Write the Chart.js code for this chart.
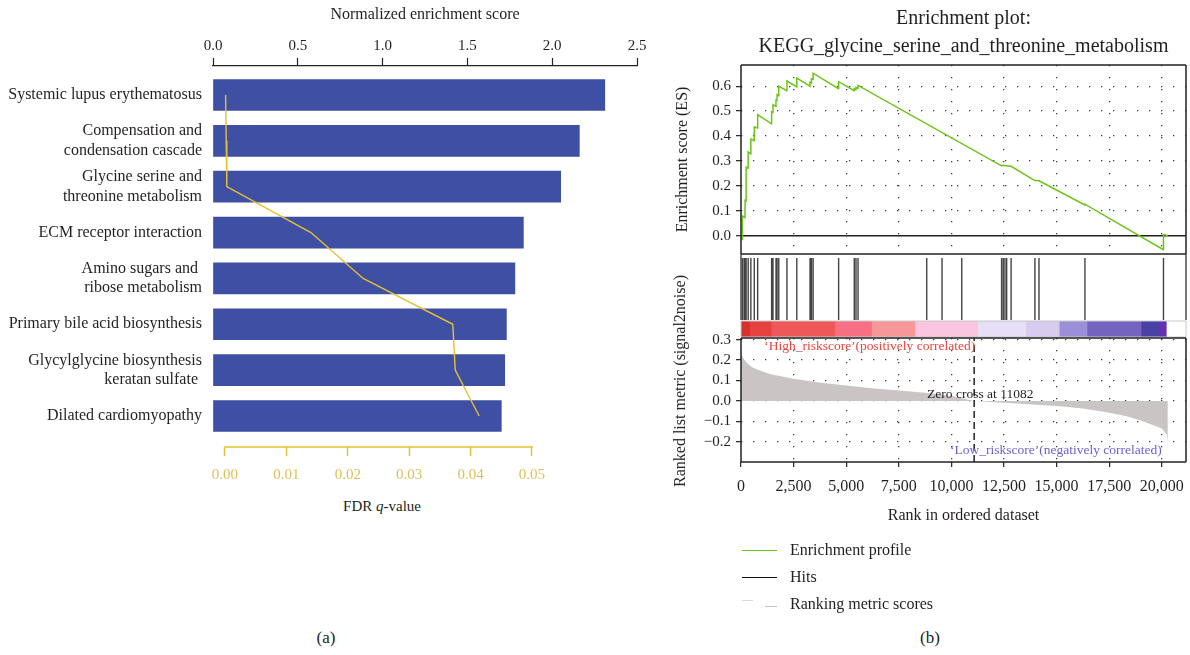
<!DOCTYPE html>
<html><head><meta charset="utf-8">
<script src="https://cdn.jsdelivr.net/npm/chart.js@4.4.1/dist/chart.umd.min.js"></script>
<style>
body{margin:0;background:#fff;}
#wrap{position:relative;width:1190px;height:655px;overflow:hidden;font-family:'Liberation Serif','DejaVu Serif',serif;color:#231f20;background:#fff;}
canvas{position:absolute;}
.t{position:absolute;white-space:nowrap;}
.ln{position:absolute;height:0;}
</style></head><body><div id="wrap">
<canvas id="cA" width="660" height="490" style="left:0;top:0"></canvas>
<canvas id="cES" width="530" height="268" style="left:660px;top:0"></canvas>
<canvas id="cHits" width="530" height="66" style="left:660px;top:254px"></canvas>
<canvas id="cBar" width="530" height="18" style="left:660px;top:320px"></canvas>
<canvas id="cRank" width="540" height="290" style="left:660px;top:250px"></canvas>

<div class="t" style="left:741px;top:3px;width:445px;text-align:center;font-size:20px;line-height:28px">Enrichment plot:<br>KEGG_glycine_serine_and_threonine_metabolism</div>
<div class="t" style="left:680px;top:381px;font-size:16px;transform:translate(-50%,-50%) rotate(-90deg)">Ranked list metric (signal2noise)</div>
<div class="t" style="left:382px;top:506px;font-size:15px;transform:translate(-50%,-50%)">FDR <i>q</i>-value</div>
<div class="t" style="left:326px;top:638px;font-size:17px;transform:translate(-50%,-50%)">(a)</div>
<div class="t" style="left:930px;top:638px;font-size:17px;transform:translate(-50%,-50%)">(b)</div>

<div class="ln" style="left:742px;top:550px;width:35px;border-top:1.5px solid #6cc417"></div>
<div class="t" style="left:790px;top:540px;font-size:16px;line-height:20px">Enrichment profile</div>
<div class="ln" style="left:742px;top:577px;width:35px;border-top:1.5px solid #111"></div>
<div class="t" style="left:790px;top:567px;font-size:16px;line-height:20px">Hits</div>
<div class="ln" style="left:742px;top:600px;width:11px;border-top:1.5px solid #d8d8d8"></div>
<div class="ln" style="left:765px;top:606px;width:12px;border-top:1.5px solid #c4c4c4"></div>
<div class="t" style="left:790px;top:594px;font-size:16px;line-height:20px">Ranking metric scores</div>
</div>
<script>
// ---------- data: panel (a) ----------
const pathways = [
  ['Systemic lupus erythematosus'],
  ['Compensation and', 'condensation cascade'],
  ['Glycine serine and', 'threonine metabolism'],
  ['ECM receptor interaction'],
  ['Amino sugars and ', 'ribose metabolism'],
  ['Primary bile acid biosynthesis'],
  ['Glycylglycine biosynthesis', 'keratan sulfate '],
  ['Dilated cardiomyopathy']
];
const nesValues = [2.31, 2.16, 2.05, 1.83, 1.78, 1.73, 1.72, 1.70];
const fdrValues = [0.0001, 0.0002, 0.0003, 0.0140, 0.0225, 0.0371, 0.0375, 0.0414];
const nesTicks = [0, 0.5, 1.0, 1.5, 2.0, 2.5];
const fdrTicks = [0, 0.01, 0.02, 0.03, 0.04, 0.05];

// ---------- data: panel (b) ----------
const rankTicks = [0, 2500, 5000, 7500, 10000, 12500, 15000, 17500, 20000];
const esTicks = [0, 0.1, 0.2, 0.3, 0.4, 0.5, 0.6];
const metricTicks = [-0.2, -0.1, 0, 0.1, 0.2, 0.3];
const esRanks = [0, 60, 65, 190, 194, 240, 243, 336, 340, 465, 469, 627, 631, 788, 792,
  1451, 1455, 1516, 1520, 1661, 1665, 1710, 1714, 1791, 1795, 2179, 2183, 2648, 2652,
  3278, 3282, 3343, 3347, 3424, 3428, 4636, 4640, 5380, 5384, 5461, 5465, 5558, 5562,
  12381, 12385, 12837, 13965, 13969, 14163, 16342, 16346, 20076, 20080, 20290];
const esScores = [0, -0.016, 0.079, 0.072, 0.141, 0.138, 0.275, 0.270, 0.336, 0.328, 0.388, 0.381, 0.436, 0.432, 0.486,
  0.449, 0.497, 0.494, 0.525, 0.519, 0.545, 0.543, 0.566, 0.562, 0.600, 0.582, 0.621, 0.597, 0.632,
  0.600, 0.616, 0.613, 0.630, 0.627, 0.652, 0.590, 0.618, 0.582, 0.590, 0.586, 0.595, 0.591, 0.603,
  0.280, 0.282, 0.278, 0.221, 0.222, 0.220, 0.123, 0.126, -0.057, 0.004, 0.0];
const hitRanks = [65, 146, 194, 243, 340, 469, 631, 792, 1455, 1520, 1665, 1714, 1795, 2183, 2652,
  3282, 3347, 3428, 4640, 5384, 5465, 5562, 8828, 9555, 10493, 12385, 12465, 12546, 12627, 12837,
  13969, 14163, 16346, 20080];
const metricRanks = [0, 40, 128, 287, 527, 766, 1405, 2490, 3799, 4996, 6193, 7518, 8747, 10024, 11082,
  12528, 15018, 16247, 17524, 18322, 18962, 19600, 20000, 20239, 20280, 20287];
const metricScores = [0.245, 0.225, 0.206, 0.186, 0.165, 0.154, 0.131, 0.109, 0.089, 0.076, 0.063, 0.052, 0.040, 0.024, 0.0,
  -0.008, -0.024, -0.037, -0.057, -0.075, -0.094, -0.118, -0.134, -0.164, -0.200, -0.264];
const zeroCross = 11082;
const bandStarts = [0, 400, 1420, 4442, 6190, 8257, 11230, 13520, 15110, 16430, 19000, 19880];
const bandEnds   = [400, 1420, 4442, 6190, 8257, 11230, 13520, 15110, 16430, 19000, 19880, 20200];
const bandColors = ['#d6302f', '#e5423f', '#ef5858', '#f66f83', '#f89797', '#fac6df', '#e7dff5', '#d7cbf0', '#9b90d8', '#7563c0', '#4a40a6', '#6531b5'];

// ---------- common ----------
Chart.defaults.font.family = "'Liberation Serif','DejaVu Serif',serif";
Chart.defaults.color = '#231f20';
Chart.defaults.animation = false;
Chart.defaults.plugins.legend.display = false;
Chart.defaults.plugins.tooltip.enabled = false;

const TXT = '#231f20';
const barColor = '#3e4fa4';
const fdrLine = '#e5c232';
const fdrLabel = '#dcc055';
const esGreen = '#6cc417';
const dots = [1.3, 10.7];
const rankMax = 21150;

function frame(color, width, sides) {
  const s = sides || ['top', 'right', 'bottom', 'left'];
  return { id: 'frame', afterDraw(chart) {
    const a = chart.chartArea, ctx = chart.ctx;
    ctx.save(); ctx.strokeStyle = color; ctx.lineWidth = width; ctx.setLineDash([]); ctx.beginPath();
    if (s.includes('top')) { ctx.moveTo(a.left, a.top); ctx.lineTo(a.right, a.top); }
    if (s.includes('right')) { ctx.moveTo(a.right, a.top); ctx.lineTo(a.right, a.bottom); }
    if (s.includes('bottom')) { ctx.moveTo(a.left, a.bottom); ctx.lineTo(a.right, a.bottom); }
    if (s.includes('left')) { ctx.moveTo(a.left, a.top); ctx.lineTo(a.left, a.bottom); }
    ctx.stroke(); ctx.restore();
  }};
}
const setTicks = vals => scale => { scale.ticks = vals.map(v => ({ value: v })); };
const isZero = c => c.tick && Math.abs(c.tick.value) < 1e-9;

// ---------- panel (a) ----------
const fdrAxisLine = { id: 'fdrAxisLine', afterDraw(chart) {
  const s = chart.scales.x2, ctx = chart.ctx;
  ctx.save(); ctx.strokeStyle = fdrLine; ctx.lineWidth = 1.5; ctx.beginPath();
  ctx.moveTo(s.getPixelForValue(fdrTicks[0]) - 0.75, s.top);
  ctx.lineTo(s.getPixelForValue(fdrTicks[fdrTicks.length - 1]) + 0.75, s.top);
  ctx.stroke(); ctx.restore();
}};
const fdrMin = -0.00195, fdrMax = 0.0671;
new Chart(document.getElementById('cA'), {
  type: 'bar',
  data: { datasets: [
    { type: 'line', label: 'FDR q-value', indexAxis: 'y', xAxisID: 'x2', yAxisID: 'y',
      data: fdrValues.map((v, i) => ({ x: v, y: i })), borderColor: fdrLine, borderWidth: 1.4,
      pointRadius: 0, tension: 0, fill: false, order: 0 },
    { type: 'bar', label: 'Normalized enrichment score', indexAxis: 'y', xAxisID: 'x', yAxisID: 'y',
      data: nesValues.map((v, i) => ({ x: v, y: i })), backgroundColor: barColor, barThickness: 31, order: 1 }
  ]},
  options: {
    indexAxis: 'y', responsive: false,
    layout: { padding: { left: 0, right: 23, top: 0, bottom: 0 } },
    scales: {
      x: { type: 'linear', position: 'top', min: 0, max: 2.5, afterBuildTicks: setTicks(nesTicks),
        ticks: { callback: v => v.toFixed(1), font: { size: 15 }, color: TXT, padding: 3, maxRotation: 0 },
        grid: { drawOnChartArea: false, drawTicks: true, tickLength: 8, tickColor: '#222', tickWidth: 1.2 },
        border: { display: true, color: '#222', width: 1.3 },
        title: { display: true, text: 'Normalized enrichment score', font: { size: 16 }, color: TXT, padding: { top: 5, bottom: 0 } },
        afterFit: s => { s.height = 66; } },
      x2: { type: 'linear', position: 'bottom', min: fdrMin, max: fdrMax, afterBuildTicks: setTicks(fdrTicks),
        ticks: { callback: v => v.toFixed(2), font: { size: 15 }, color: fdrLabel, padding: 10, maxRotation: 0 },
        grid: { drawOnChartArea: false, drawTicks: true, tickLength: 9, tickColor: fdrLine, tickWidth: 1.5 },
        border: { display: false },
        afterFit: s => { s.height = 43; } },
      y: { type: 'linear', reverse: true, offset: false, min: -0.632, max: 7.676, afterBuildTicks: setTicks(pathways.map((_, i) => i)),
        ticks: { callback: v => pathways[v], font: { size: 16, lineHeight: 1.2 }, color: TXT, padding: 11 },
        grid: { display: false, drawTicks: false, offset: false }, border: { display: false },
        afterFit: s => { s.width = 213; } }
    }
  },
  plugins: [fdrAxisLine]
});

// ---------- panel (b): enrichment score ----------
const dottedX = {
  color: c => (isZero(c) ? 'rgba(0,0,0,0)' : '#3a3a3a'), lineWidth: 1.3
};
new Chart(document.getElementById('cES'), {
  type: 'line',
  data: { datasets: [{ label: 'Enrichment profile', data: esRanks.map((r, i) => ({ x: r, y: esScores[i] })),
    borderColor: esGreen, borderWidth: 1.5, pointRadius: 0, tension: 0, fill: false }] },
  options: {
    responsive: false,
    layout: { padding: { left: 0, right: 4, top: 65, bottom: 14 } },
    scales: {
      x: { type: 'linear', min: 0, max: rankMax, afterBuildTicks: setTicks(rankTicks),
        ticks: { display: false }, grid: { ...dottedX, drawTicks: false },
        border: { display: false, dash: dots }, afterFit: s => { s.height = 0; } },
      y: { type: 'linear', min: -0.074, max: 0.685, afterBuildTicks: setTicks(esTicks),
        ticks: { callback: v => v.toFixed(1), font: { size: 15 }, color: TXT, padding: 5 },
        grid: { color: c => (isZero(c) ? '#222' : '#3a3a3a'), lineWidth: c => (isZero(c) ? 1.5 : 1.3),
          tickLength: 5, tickColor: '#222', tickWidth: 1.2 },
        border: { display: false, dash: c => (isZero(c) ? [] : dots) },
        title: { display: true, text: 'Enrichment score (ES)', font: { size: 16 }, color: TXT, padding: { top: 13, bottom: 0 } },
        afterFit: s => { s.width = 81; } }
    }
  },
  plugins: [frame('#222', 1.5)]
});

// ---------- panel (b): hits ----------
const hitSegments = hitRanks.flatMap(r => [{ x: r, y: 0 }, { x: r, y: 1 }, { x: r, y: null }]);
new Chart(document.getElementById('cHits'), {
  type: 'line',
  data: { datasets: [{ label: 'Hits', data: hitSegments, borderColor: '#444', borderWidth: 1.4,
    pointRadius: 0, spanGaps: false, tension: 0 }] },
  options: {
    responsive: false,
    layout: { padding: { left: 81, right: 4, top: 0, bottom: 0 } },
    scales: { x: { type: 'linear', min: 0, max: rankMax, display: false },
              y: { type: 'linear', min: 0, max: 1.065, display: false } }
  },
  plugins: [frame('#333', 1.3, ['left', 'right'])]
});

// ---------- panel (b): colour bar ----------
new Chart(document.getElementById('cBar'), {
  type: 'bar',
  data: { labels: ['rank'], datasets: bandColors.map((c, i) => ({
    data: [[bandStarts[i], bandEnds[i]]], backgroundColor: c, grouped: false,
    barPercentage: 1, categoryPercentage: 1, borderWidth: 0, inflateAmount: 0.6 })) },
  options: {
    indexAxis: 'y', responsive: false,
    layout: { padding: { left: 81, right: 4, top: 1, bottom: 1 } },
    scales: { x: { type: 'linear', min: 0, max: rankMax, display: false }, y: { display: false } }
  },
  plugins: [frame('#c8c8c8', 1)]
});

// ---------- panel (b): ranked list metric ----------
const notes = [
  { text: '\u2018High_riskscore\u2019(positively correlated)', x: 1100, y: 0.266, color: '#e8453c', align: 'left' },
  { text: 'Zero cross at ' + zeroCross, x: 11373, y: 0.030, color: '#231f20', align: 'center' },
  { text: '\u2018Low_riskscore\u2019(negatively correlated)', x: 20000, y: -0.240, color: '#6b62cf', align: 'right' }
];
const notesPlugin = { id: 'notes', afterDatasetsDraw(chart) {
  const ctx = chart.ctx, xs = chart.scales.x, ys = chart.scales.y;
  ctx.save(); ctx.font = "13.5px 'Liberation Serif', serif"; ctx.textBaseline = 'middle';
  notes.forEach(n => { ctx.fillStyle = n.color; ctx.textAlign = n.align;
    ctx.fillText(n.text, xs.getPixelForValue(n.x), ys.getPixelForValue(n.y)); });
  ctx.restore();
}};
const metricMin = -0.298, metricMax = 0.308;
new Chart(document.getElementById('cRank'), {
  type: 'line',
  data: { datasets: [
    { label: 'Zero cross', data: [{ x: zeroCross, y: metricMin }, { x: zeroCross, y: metricMax }],
      borderColor: '#222', borderWidth: 1.5, borderDash: [7, 4], pointRadius: 0, fill: false },
    { label: 'Ranking metric scores', data: metricRanks.map((r, i) => ({ x: r, y: metricScores[i] })),
      fill: 'origin', backgroundColor: '#c9c5c5', borderColor: 'rgba(0,0,0,0)', borderWidth: 0, pointRadius: 0, tension: 0 }
  ]},
  options: {
    responsive: false,
    layout: { padding: { left: 0, right: 14, top: 88, bottom: 0 } },
    scales: {
      x: { type: 'linear', min: 0, max: rankMax, afterBuildTicks: setTicks(rankTicks),
        ticks: { callback: v => v.toLocaleString('en-US'), font: { size: 16 }, color: TXT, padding: 10, maxRotation: 0, autoSkip: false },
        grid: { ...dottedX, tickLength: 5, tickColor: '#222', tickWidth: 1.2 },
        border: { display: false, dash: dots },
        title: { display: true, text: 'Rank in ordered dataset', font: { size: 16 }, color: TXT, padding: { top: 0, bottom: 15 } },
        afterFit: s => { s.height = 78; } },
      y: { type: 'linear', min: metricMin, max: metricMax, afterBuildTicks: setTicks(metricTicks),
        ticks: { callback: v => (v < -1e-9 ? '\u2212' : '') + Math.abs(v).toFixed(1), font: { size: 15 }, color: TXT, padding: 5 },
        grid: { color: '#3a3a3a', lineWidth: 1.3, tickLength: 5, tickColor: '#222', tickWidth: 1.2 },
        border: { display: false, dash: dots },
        afterFit: s => { s.width = 81; } }
    }
  },
  plugins: [frame('#222', 1.5), notesPlugin]
});
</script>
</body></html>
